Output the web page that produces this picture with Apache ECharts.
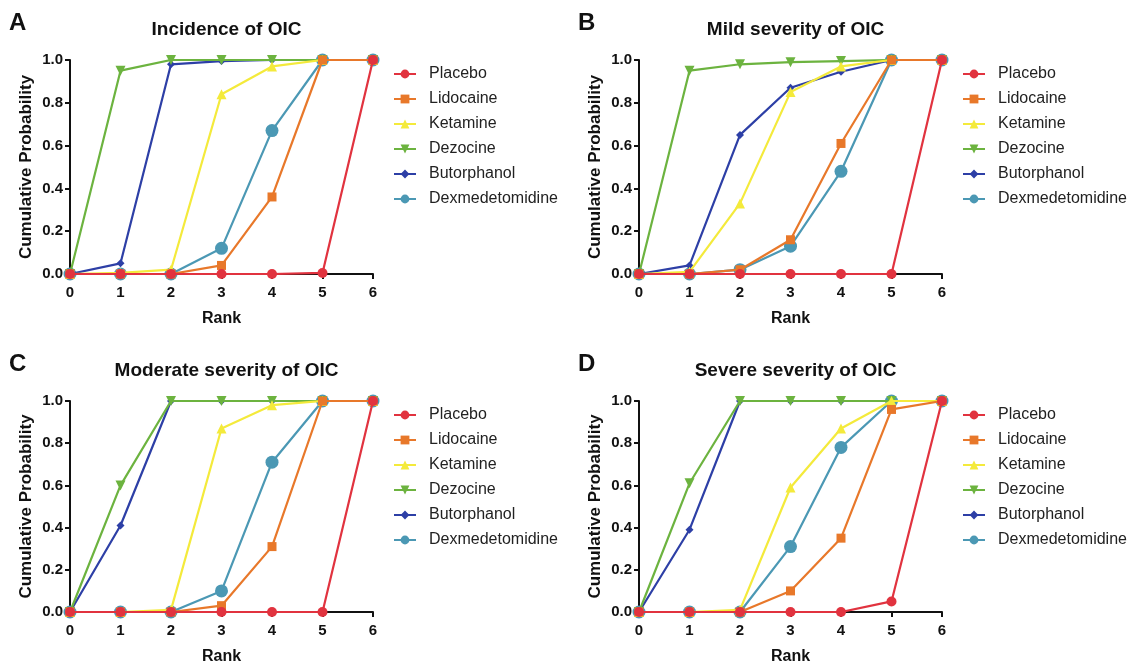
<!DOCTYPE html>
<html>
<head>
<meta charset="utf-8">
<script src="https://cdn.jsdelivr.net/npm/echarts@6/dist/echarts.min.js"></script>
<style>
  html, body { margin: 0; padding: 0; background: #fff; }
  #chart { width: 1129px; height: 666px; }
</style>
</head>
<body>
<div id="chart"></div>
<script>
// ranks on the x axis
var ranks = [0, 1, 2, 3, 4, 5, 6];
var drugs = ['Placebo', 'Lidocaine', 'Ketamine', 'Dezocine', 'Butorphanol', 'Dexmedetomidine'];
var panelTitles = ['Incidence of OIC', 'Mild severity of OIC', 'Moderate severity of OIC', 'Severe severity of OIC'];
var panelLetters = ['A', 'B', 'C', 'D'];

// cumulative probabilities, one row per drug (same order as drugs)
var incidence = [
    [0, 0, 0, 0, 0, 0.005, 1],
    [0, 0, 0, 0.04, 0.36, 1, 1],
    [0, 0.005, 0.02, 0.84, 0.97, 1, 1],
    [0, 0.95, 1, 1, 1, 1, 1],
    [0, 0.05, 0.98, 0.995, 1, 1, 1],
    [0, 0, 0, 0.12, 0.67, 1, 1]
];
var mild = [
    [0, 0, 0, 0, 0, 0, 1],
    [0, 0, 0.02, 0.16, 0.61, 1, 1],
    [0, 0.01, 0.33, 0.85, 0.97, 1, 1],
    [0, 0.95, 0.98, 0.99, 0.995, 1, 1],
    [0, 0.04, 0.65, 0.87, 0.945, 1, 1],
    [0, 0, 0.02, 0.13, 0.48, 1, 1]
];
var moderate = [
    [0, 0, 0, 0, 0, 0, 1],
    [0, 0, 0, 0.03, 0.31, 1, 1],
    [0, 0, 0.01, 0.87, 0.98, 1, 1],
    [0, 0.6, 1, 1, 1, 1, 1],
    [0, 0.41, 1, 1, 1, 1, 1],
    [0, 0, 0, 0.1, 0.71, 1, 1]
];
var severe = [
    [0, 0, 0, 0, 0, 0.05, 1],
    [0, 0, 0, 0.1, 0.35, 0.96, 1],
    [0, 0, 0.01, 0.59, 0.87, 1, 1],
    [0, 0.61, 1, 1, 1, 1, 1],
    [0, 0.39, 1, 1, 1, 1, 1],
    [0, 0, 0, 0.31, 0.78, 1, 1]
];
var panels = [incidence, mild, moderate, severe];

var colors = ['#e1333f', '#e8782a', '#f4ea3b', '#6cb33f', '#2d3fa6', '#4b98b4'];
var symbols = ['circle', 'rect', 'triangle', 'triangle', 'diamond', 'circle'];
var symbolSizes = [10, 9, 10, 10, 8, 13];
var symbolRotates = [0, 0, 0, 180, 0, 0];
var zOrder = [8, 7, 6, 5, 4, 3];

var font = 'Liberation Sans, Arial, sans-serif';
var pos = [
    { left: 70, top: 60 },
    { left: 639, top: 60 },
    { left: 70, top: 401 },
    { left: 639, top: 401 }
];
var W = 303, H = 214;

var grid = [], xAxis = [], yAxis = [], series = [], title = [], legend = [];
pos.forEach(function (p, i) {
    grid.push({ left: p.left, top: p.top, width: W, height: H });
    xAxis.push({
        gridIndex: i, type: 'value', min: 0, max: 6, interval: 1,
        name: 'Rank', nameLocation: 'middle', nameGap: 37,
        nameTextStyle: { fontFamily: font, fontWeight: 'bold', fontSize: 16, color: '#111' },
        axisLine: { lineStyle: { color: '#111', width: 2 } },
        axisTick: { length: 5, lineStyle: { color: '#111', width: 2 } },
        axisLabel: { margin: 11, fontFamily: font, fontWeight: 'bold', fontSize: 15, color: '#111' },
        splitLine: { show: false }
    });
    yAxis.push({
        gridIndex: i, type: 'value', min: 0, max: 1, interval: 0.2,
        name: 'Cumulative Probability', nameLocation: 'middle', nameGap: 35,
        nameTextStyle: { fontFamily: font, fontWeight: 'bold', fontSize: 17, color: '#111' },
        axisLine: { show: true, lineStyle: { color: '#111', width: 2 } },
        axisTick: { show: true, length: 5, lineStyle: { color: '#111', width: 2 } },
        axisLabel: {
            margin: 7, fontFamily: font, fontWeight: 'bold', fontSize: 15, color: '#111',
            formatter: function (v) { return v.toFixed(1); }
        },
        splitLine: { show: false }
    });
    title.push({
        text: panelTitles[i], left: p.left + W / 2, top: p.top - 45, textAlign: 'center',
        textStyle: { fontFamily: font, fontWeight: 'bold', fontSize: 19, color: '#111' }
    });
    title.push({
        text: panelLetters[i], left: p.left - 66, top: p.top - 54,
        textStyle: { fontFamily: font, fontWeight: 'bold', fontSize: 24, color: '#111' }
    });
    legend.push({
        data: drugs, orient: 'vertical', left: p.left + W + 15, top: p.top + 1,
        itemWidth: 22, itemHeight: 11, itemGap: 9,
        textStyle: { fontFamily: font, fontSize: 16, color: '#222', padding: [0, 0, 0, 8] }
    });
    panels[i].forEach(function (vals, d) {
        series.push({
            name: drugs[d], type: 'line', xAxisIndex: i, yAxisIndex: i,
            data: ranks.map(function (r, k) { return [r, vals[k]]; }),
            symbol: symbols[d], symbolSize: symbolSizes[d], symbolRotate: symbolRotates[d],
            showAllSymbol: true, z: zOrder[d],
            lineStyle: { color: colors[d], width: 2.2 },
            itemStyle: { color: colors[d], borderWidth: 0 },
            animation: false
        });
    });
});

var chart = echarts.init(document.getElementById('chart'));
chart.setOption({
    backgroundColor: '#fff',
    color: colors,
    animation: false,
    title: title,
    legend: legend,
    grid: grid,
    xAxis: xAxis,
    yAxis: yAxis,
    series: series
});
</script>
</body>
</html>
